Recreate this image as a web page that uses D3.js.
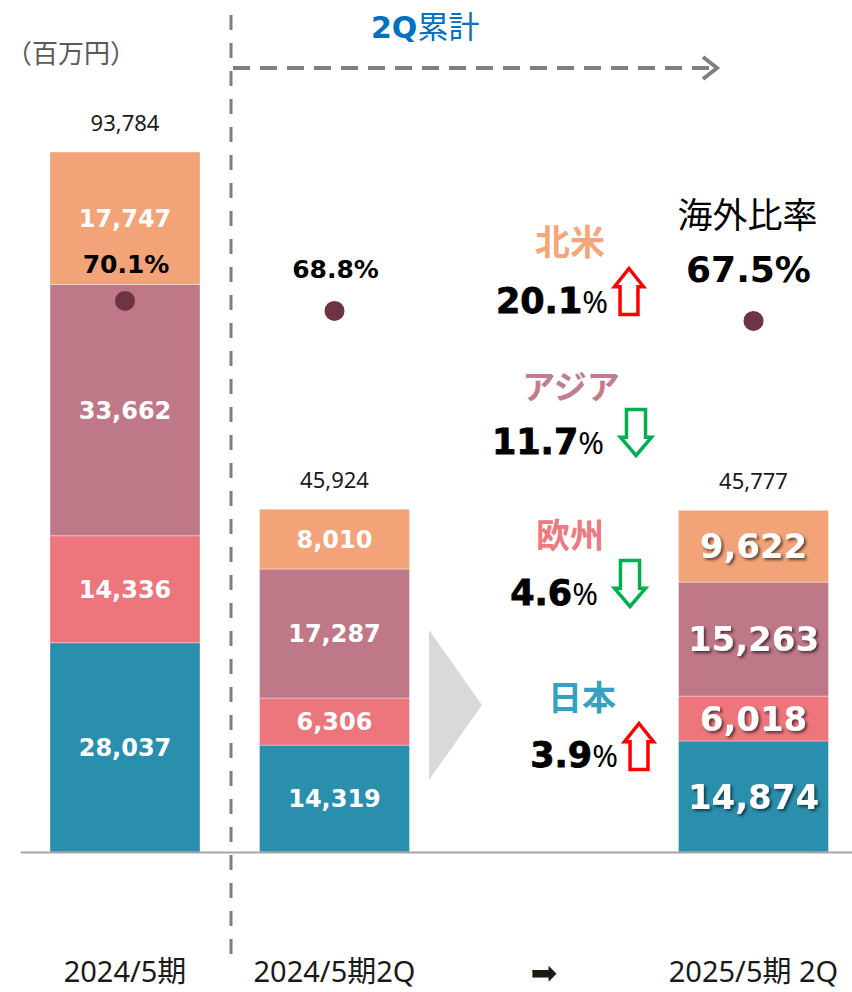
<!DOCTYPE html>
<html>
<head>
<meta charset="utf-8">
<script src="https://cdn.jsdelivr.net/npm/d3@7"></script>
<style>
  html, body { margin: 0; padding: 0; background: #fff; }
  svg { display: block; }
</style>
</head>
<body>
<svg id="chart" width="852" height="992"></svg>
<script>
// データ（百万円）
var categories = ["2024/5期", "2024/5期2Q", "➡", "2025/5期 2Q"];
var barCategories = ["2024/5期", "2024/5期2Q", "2025/5期 2Q"];
var regions = ["日本", "欧州", "アジア", "北米"];          // 下から積み上げ
var japan   = [28037, 14319, 14874];
var europe  = [14336, 6306, 6018];
var asia    = [33662, 17287, 15263];
var america = [17747, 8010, 9622];
var totals  = [93784, 45924, 45777];
var overseasRatio = [70.1, 68.8, 67.5];

// 2Q 前年同期比
var changeRegions = ["北米", "アジア", "欧州", "日本"];
var changePct = [20.1, 11.7, 4.6, 3.9];
var changeDir = ["up", "down", "down", "up"];

var COLORS = { "日本": "#2a8fad", "欧州": "#ec767b", "アジア": "#be7888", "北米": "#f2a378" };
var LABEL_COLORS = { "日本": "#34a1c2", "欧州": "#ee7a7f", "アジア": "#c27d8c", "北米": "#f4a67b" };
var BOLD_NUM = "'DejaVu Sans', Verdana, sans-serif";
var JP = "'Noto Sans CJK JP', 'Noto Sans', sans-serif";
var AXIS_FONT = "'Noto Sans', 'Noto Sans CJK JP', sans-serif";
var BASE_Y = 852, TOP_Y = 152;

var svg = d3.select("#chart");

var x = d3.scaleBand().domain(categories).range([20.25, 858.25])
  .paddingInner(0.284).paddingOuter(0.142);
var y = d3.scaleLinear().domain([0, d3.max(totals)]).range([BASE_Y, TOP_Y]);
var yRatio = d3.scaleLinear().domain([0, 100]).range([840, 71]);

var rows = barCategories.map(function (c, i) {
  return { cat: c, "日本": japan[i], "欧州": europe[i], "アジア": asia[i], "北米": america[i], i: i };
});
var stack = d3.stack().keys(regions)(rows);

// ガイド線（2Q累計）
svg.append("line").attr("x1", 231).attr("x2", 231).attr("y1", 15).attr("y2", 962)
  .attr("stroke", "#7f7f7f").attr("stroke-width", 3).attr("stroke-dasharray", "15,13");
svg.append("line").attr("x1", 233).attr("x2", 714).attr("y1", 68).attr("y2", 68)
  .attr("stroke", "#7f7f7f").attr("stroke-width", 4).attr("stroke-dasharray", "17,10");
svg.append("path").attr("d", "M703,57 L717,68 L703,79")
  .attr("fill", "none").attr("stroke", "#7f7f7f").attr("stroke-width", 4);
var ttl = svg.append("text").attr("x", 371).attr("y", 38).attr("fill", "#0070c0");
ttl.append("tspan").style("font-family", BOLD_NUM).style("font-weight", "bold").style("font-size", "30px").text("2Q");
ttl.append("tspan").style("font-family", JP).style("font-size", "31px").text("累計");

svg.append("text").attr("x", 6).attr("y", 63).attr("fill", "#595959")
  .style("font-family", JP).style("font-size", "26px").text("（百万円）");

// 棒
var layers = svg.append("g").selectAll("g").data(stack).enter().append("g")
  .attr("fill", function (d) { return COLORS[d.key]; });
layers.selectAll("rect").data(function (d) { return d; }).enter().append("rect")
  .attr("x", function (d) { return x(d.data.cat); })
  .attr("width", x.bandwidth())
  .attr("y", function (d) { return y(d[1]); })
  .attr("height", function (d) { return y(d[0]) - y(d[1]); })
  .attr("stroke", "#ffffff").attr("stroke-opacity", 0.35).attr("stroke-width", 1);

// 区分ラベル
svg.append("defs").append("filter").attr("id", "shadow")
  .attr("x", "-10%").attr("y", "-20%").attr("width", "130%").attr("height", "150%")
  .append("feDropShadow").attr("dx", 2).attr("dy", 2).attr("stdDeviation", 1.5)
  .attr("flood-color", "#000").attr("flood-opacity", 0.6);
stack.forEach(function (layer) {
  layer.forEach(function (d) {
    var big = d.data.i === 2;
    svg.append("text")
      .attr("x", x(d.data.cat) + x.bandwidth() / 2)
      .attr("y", (y(d[0]) + y(d[1])) / 2)
      .attr("dy", "0.36em")
      .attr("text-anchor", "middle").attr("fill", "#fff")
      .attr("filter", big ? "url(#shadow)" : null)
      .style("font-family", BOLD_NUM).style("font-weight", "bold")
      .style("font-size", big ? "34px" : "24px")
      .text(d3.format(",")(d.data[layer.key]));
  });
});

// 合計
svg.selectAll("text.total").data(totals).enter().append("text").attr("class", "total")
  .attr("x", function (d, i) { return x(barCategories[i]) + x.bandwidth() / 2; })
  .attr("y", function (d) { return y(d) - 21; })
  .attr("text-anchor", "middle").attr("fill", "#1a1a1a")
  .style("font-family", "'Noto Sans', sans-serif").style("font-size", "22px")
  .text(function (d) { return d3.format(",")(d); });

// 海外比率
var ratioDy = [28, 33, 39];
svg.selectAll("circle.ratio").data(overseasRatio).enter().append("circle").attr("class", "ratio")
  .attr("cx", function (d, i) { return x(barCategories[i]) + x.bandwidth() / 2; })
  .attr("cy", function (d) { return yRatio(d); })
  .attr("r", 10).attr("fill", "#6e3441");
svg.selectAll("text.ratio").data(overseasRatio).enter().append("text").attr("class", "ratio")
  .attr("x", function (d, i) { return x(barCategories[i]) + x.bandwidth() / 2 + (i === 2 ? -5 : 1); })
  .attr("y", function (d, i) { return yRatio(d) - ratioDy[i]; })
  .attr("text-anchor", "middle").attr("fill", "#000")
  .style("font-family", BOLD_NUM).style("font-weight", "bold")
  .style("font-size", function (d, i) { return i === 2 ? "36px" : "25px"; })
  .text(function (d) { return d.toFixed(1) + "%"; });
svg.append("text")
  .attr("x", x(barCategories[2]) + x.bandwidth() / 2 - 6)
  .attr("y", yRatio(overseasRatio[2]) - 93)
  .attr("text-anchor", "middle").attr("fill", "#000")
  .style("font-family", JP).style("font-size", "35px").text("海外比率");

// 中央の矢印（三角）
var tx = x("➡") - 40;
svg.append("path")
  .attr("d", "M" + tx + ",630 L" + (tx + 53) + ",705 L" + tx + ",780 Z")
  .attr("fill", "#d9d9d9");

// 地域別 増減率
var rowLayout = [
  { nameX: 570, nameY: 242, pctX: 608, pctY: 313, arrowX: 613, arrowY: 267, nameSize: 35 },
  { nameX: 571, nameY: 387, pctX: 604, pctY: 454, arrowX: 619, arrowY: 408, nameSize: 33 },
  { nameX: 570, nameY: 536, pctX: 598, pctY: 605, arrowX: 613, arrowY: 559, nameSize: 34 },
  { nameX: 582, nameY: 698, pctX: 618, pctY: 767, arrowX: 623, arrowY: 722, nameSize: 34 }
];
function blockArrow(x0, y0, w, h, dir) {
  var s = 1.5;
  var l = x0 + s, r = x0 + w - s, t = y0 + s, b = y0 + h - s;
  var mx = (l + r) / 2, sw = (w * 0.56) / 2, hh = h * 0.37;
  if (dir === "up") {
    return "M" + mx + "," + t + " L" + r + "," + (t + hh) + " L" + (mx + sw) + "," + (t + hh) +
      " L" + (mx + sw) + "," + b + " L" + (mx - sw) + "," + b + " L" + (mx - sw) + "," + (t + hh) +
      " L" + l + "," + (t + hh) + " Z";
  }
  return "M" + mx + "," + b + " L" + r + "," + (b - hh) + " L" + (mx + sw) + "," + (b - hh) +
    " L" + (mx + sw) + "," + t + " L" + (mx - sw) + "," + t + " L" + (mx - sw) + "," + (b - hh) +
    " L" + l + "," + (b - hh) + " Z";
}
changeRegions.forEach(function (name, i) {
  var L = rowLayout[i];
  svg.append("text").attr("x", L.nameX).attr("y", L.nameY).attr("dy", "0.36em")
    .attr("text-anchor", "middle").attr("fill", LABEL_COLORS[name])
    .style("font-family", JP).style("font-weight", "bold").style("font-size", L.nameSize + "px")
    .text(name);
  var t = svg.append("text").attr("x", L.pctX).attr("y", L.pctY)
    .attr("text-anchor", "end").attr("fill", "#000");
  t.append("tspan").style("font-family", BOLD_NUM).style("font-weight", "bold").style("font-size", "35px")
    .style("stroke", "#000").style("stroke-width", 0.8)
    .text(changePct[i].toFixed(1));
  t.append("tspan").style("font-family", "'Noto Sans', sans-serif").style("font-size", "31px").text("%");
  var up = changeDir[i] === "up";
  svg.append("path").attr("d", blockArrow(L.arrowX, L.arrowY, up ? 32 : 34, 49, changeDir[i]))
    .attr("fill", "#fff").attr("stroke", up ? "#ff0000" : "#00b050").attr("stroke-width", 3.5)
    .attr("stroke-linejoin", "miter");
});

// 横軸
var axis = svg.append("g").attr("transform", "translate(0," + BASE_Y + ")")
  .call(d3.axisBottom(x).tickSize(0).tickSizeOuter(0).tickPadding(109));
axis.select(".domain").attr("stroke", "#a6a6a6").attr("stroke-width", 2);
axis.selectAll(".tick text").attr("fill", "#1a1a1a")
  .style("font-family", function (d) { return d === "➡" ? "'DejaVu Sans', sans-serif" : AXIS_FONT; })
  .style("font-size", function (d) { return d === "➡" ? "32px" : "29px"; });
</script>
</body>
</html>
